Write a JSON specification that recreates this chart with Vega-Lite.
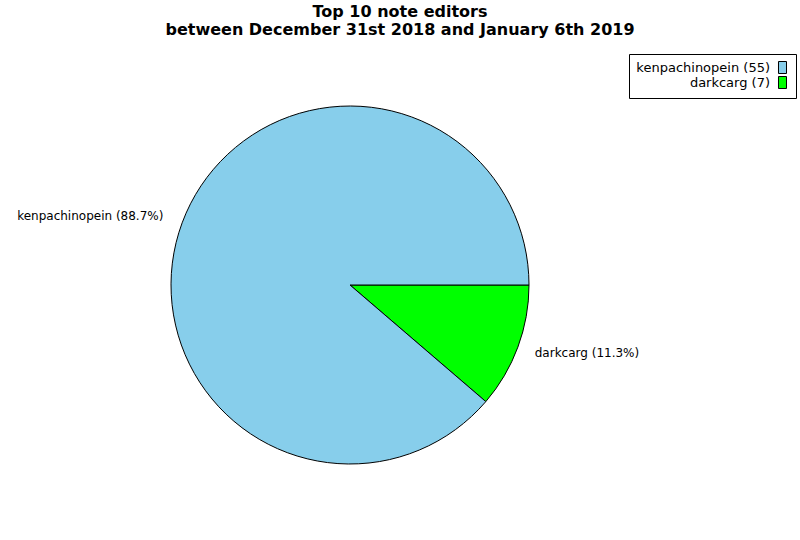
{
  "$schema": "https://vega.github.io/schema/vega-lite/v6.json",
  "width": 700,
  "height": 510,
  "autosize": {"type": "none"},
  "padding": {"left": 0, "top": 30, "right": 100, "bottom": 0},
  "background": "white",
  "title": {
    "text": ["Top 10 note editors", "between December 31st 2018 and January 6th 2019"],
    "font": "DejaVu Sans",
    "fontSize": 16,
    "fontWeight": "bold",
    "color": "black",
    "anchor": "middle",
    "dx": 50,
    "offset": -8,
    "lineHeight": 18
  },
  "data": {
    "values": [
      {"editor": "darkcarg", "count": 7, "label": "darkcarg (11.3%)", "legend": "darkcarg (7)", "order": 1},
      {"editor": "kenpachinopein", "count": 55, "label": "kenpachinopein (88.7%)", "legend": "kenpachinopein (55)", "order": 2}
    ]
  },
  "encoding": {
    "theta": {"field": "count", "type": "quantitative", "stack": true, "scale": {"range": [1.5707963, 7.8539816]}},
    "order": {"field": "order", "type": "ordinal"}
  },
  "layer": [
    {
      "mark": {"type": "arc", "outerRadius": 179, "stroke": "black", "strokeWidth": 1},
      "encoding": {
        "color": {
          "field": "legend",
          "type": "nominal",
          "scale": {"domain": ["kenpachinopein (55)", "darkcarg (7)"], "range": ["#87CEEB", "#00FF00"]},
          "legend": {
            "title": null,
            "orient": "none",
            "legendX": 629,
            "legendY": 24,
            "strokeColor": "black",
            "fillColor": "white",
            "padding": 7,
            "labelFont": "DejaVu Sans",
            "labelFontSize": 13,
            "labelColor": "black",
            "labelAlign": "right",
            "labelOffset": -19,
            "symbolOffset": 140,
            "symbolType": "M-0.667,-1H0.667V1H-0.667Z",
            "symbolSize": 144,
            "symbolStrokeColor": "black",
            "symbolStrokeWidth": 1,
            "symbolOpacity": 1,
            "rowPadding": -6
          }
        }
      }
    },
    {
      "mark": {"type": "text", "radius": 199, "align": "right", "baseline": "middle", "font": "DejaVu Sans", "fontSize": 12, "color": "black"},
      "encoding": {
        "text": {"condition": {"test": "datum.editor === 'kenpachinopein'", "field": "label", "type": "nominal"}, "value": ""}
      }
    },
    {
      "mark": {"type": "text", "radius": 197, "align": "left", "baseline": "middle", "font": "DejaVu Sans", "fontSize": 12, "color": "black"},
      "encoding": {
        "text": {"condition": {"test": "datum.editor === 'darkcarg'", "field": "label", "type": "nominal"}, "value": ""}
      }
    }
  ],
  "config": {"view": {"stroke": null}}
}
